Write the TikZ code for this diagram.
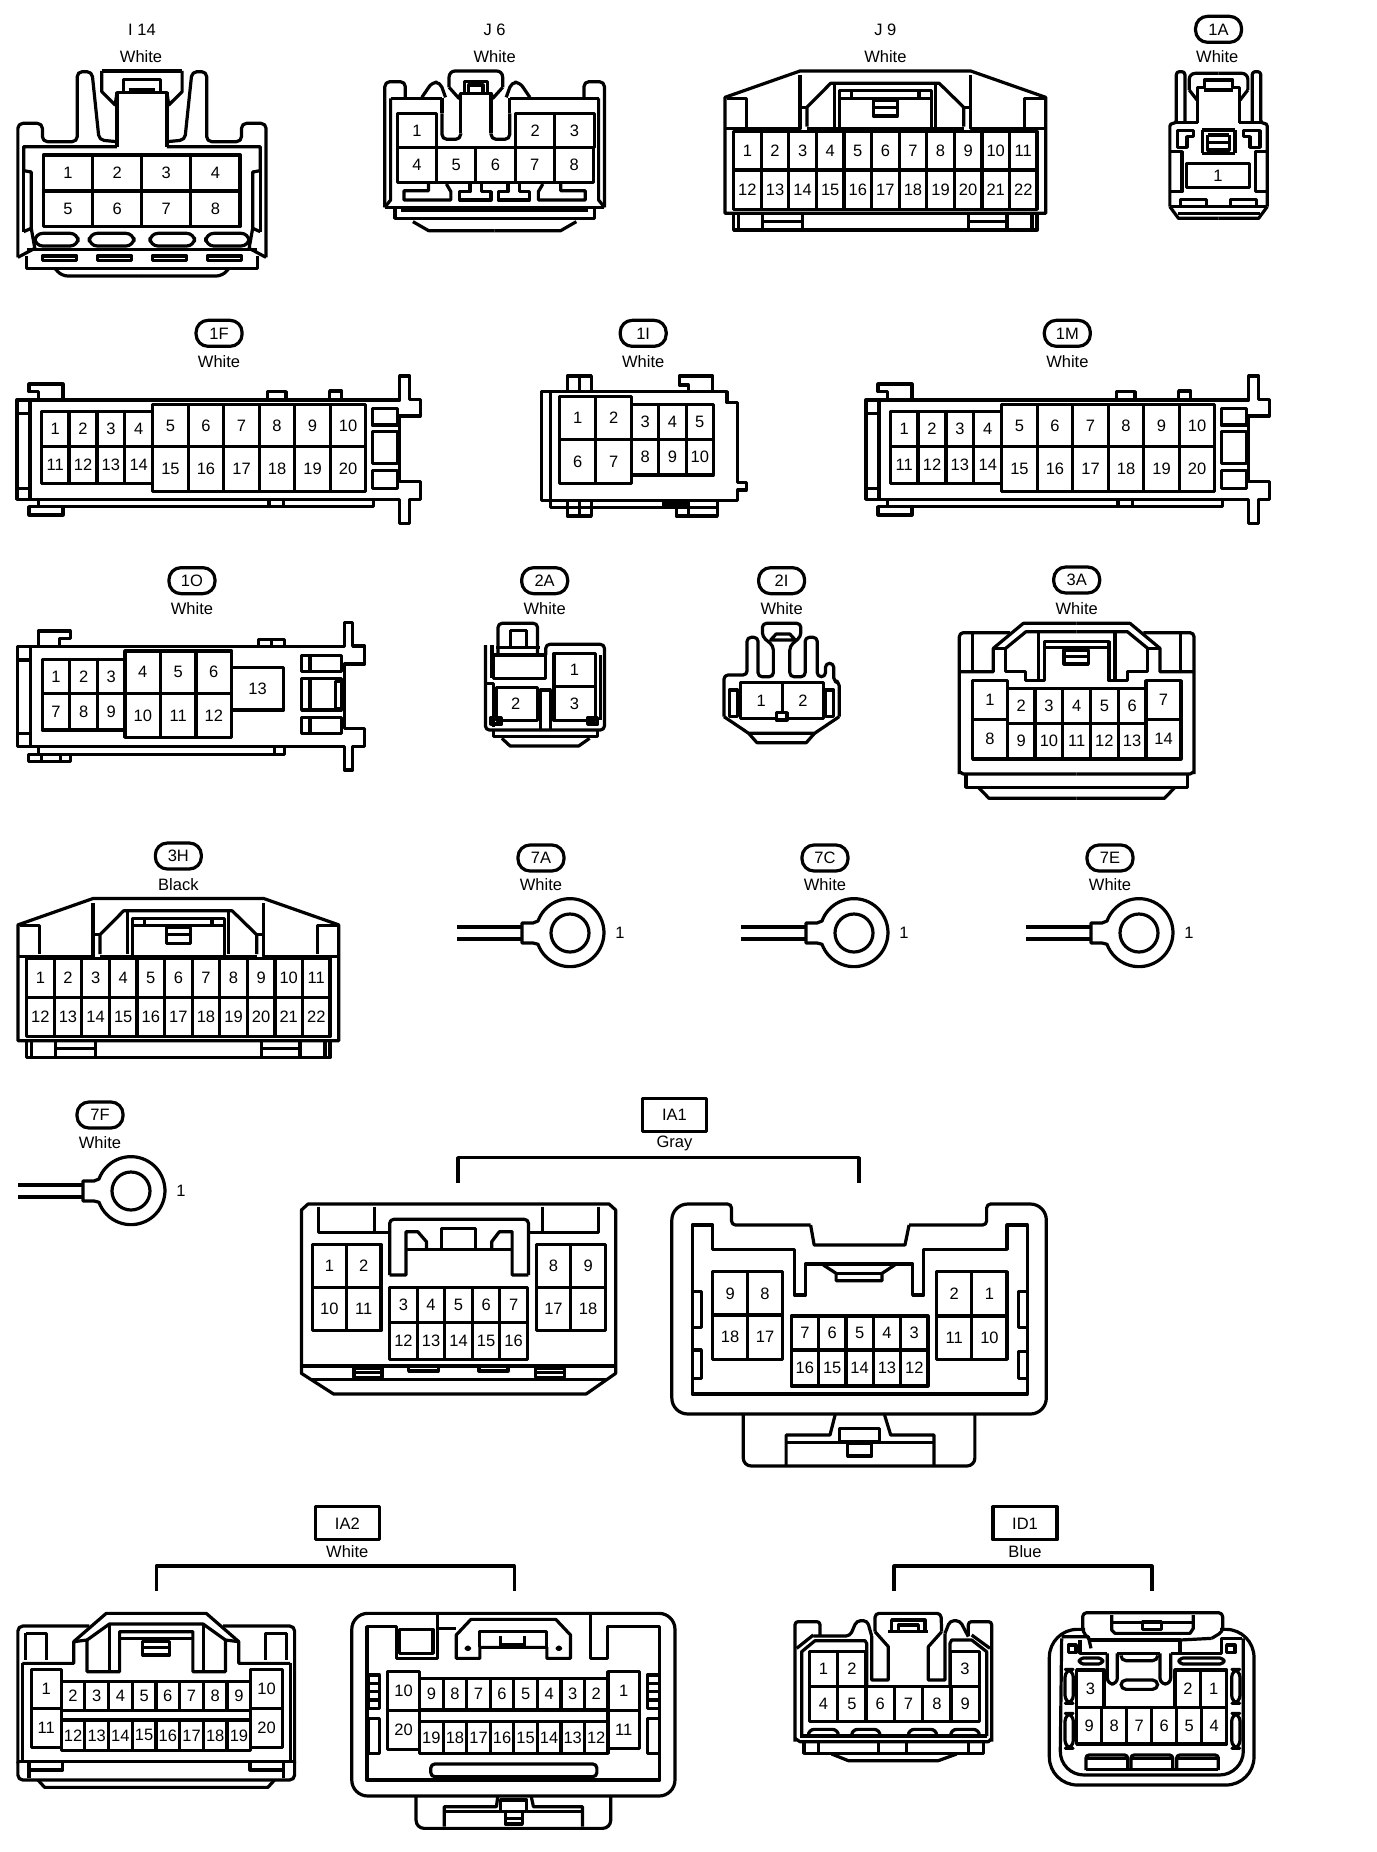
\documentclass[tikz,border=0pt]{standalone}
\usepackage{fontspec}
\setmainfont{Liberation Sans}
\tikzset{
  textfont/.style={font=\fontsize{16.5}{18}\selectfont},
  pin/.style={textfont,inner sep=0pt},
  caption/.style={textfont,inner sep=0pt},
  tag/.style={textfont,draw,fill=white,rounded corners=12pt,minimum width=46pt,minimum height=26pt,inner sep=0pt},
  codebox/.style={textfont,draw,minimum width=64pt,minimum height=33pt,inner sep=0pt},
  zoomed/.style n args={4}{shift={(#1,#2)},xscale=1/#3,yscale=1/#4},
}
% one row of cavities: prefix, numbers, left edge, pitch, top, bottom
\newcommand{\pinrow}[6]{%
  \foreach \n [count=\k from 0] in {#2} {
    \pgfmathsetmacro{\xa}{#3+\k*#4}
    \pgfmathsetmacro{\xb}{#3+(\k+1)*#4}
    \draw (\xa,#5) rectangle (\xb,#6);
    \node[pin] (#1-\n) at ({(\xa+\xb)/2},{(#5+#6)/2}) {\n};
  }}
% flat housing of 1F and 1M
\newcommand{\longbody}[1]{%
  \draw (62,270) -- (35,270) -- (35,568) -- (825,568) -- (825,640) -- (845,640) -- (845,568) -- (867,568) -- (867,515) -- (825,515) -- (825,318) -- (867,318) -- (867,268) -- (845,268) -- (845,198) -- (825,198) -- (825,270) -- (62,270) -- (62,568);
  \draw (35,310) -- (62,310);
  \draw (35,535) -- (62,535);
  \draw (80,268) -- (80,245) -- (60,245) -- (60,222) -- (130,222) -- (130,270);
  \draw (80,568) -- (80,590) -- (770,590) -- (770,568);
  \draw (60,590) rectangle (130,615);
  \draw (555,568) -- (555,590);
  \draw (585,568) -- (585,590);
  \draw (552,268) -- (552,245) -- (590,245) -- (590,268);
  \draw (680,268) -- (680,243) -- (705,243) -- (705,268);
  \draw (768,295) rectangle (820,345);
  \draw (768,365) rectangle (820,460);
  \draw (768,482) rectangle (820,535);
  \pinrow{#1}{1,2,3,4}{85}{57.5}{305}{410}
  \pinrow{#1}{11,12,13,14}{85}{57.5}{410}{520}
  \pinrow{#1}{5,6,7,8,9,10}{315}{73.3}{283}{410}
  \pinrow{#1}{15,16,17,18,19,20}{315}{73.3}{410}{545}
}
% wide housing of J9 and 3H
\newcommand{\widebody}[1]{%
  \draw (58,640) -- (58,292) -- (232,213) -- (628,213) -- (802,292) -- (802,640) -- cycle;
  \draw (58,386) -- (232,386) -- (232,225);
  \draw (802,386) -- (628,386) -- (628,225);
  \draw (248,380) -- (248,322) -- (303,250) -- (555,250) -- (612,322) -- (612,380);
  \draw (232,322) -- (248,322);
  \draw (612,322) -- (628,322);
  \draw (248,386) -- (612,386);
  \draw (312,250) -- (312,380);
  \draw (547,250) -- (547,380);
  \draw (323,385) -- (323,272) -- (537,272) -- (537,385);
  \draw (323,295) -- (537,295);
  \draw (352,272) -- (352,295);
  \draw (508,272) -- (508,295);
  \draw (62,295) -- (108,295) -- (108,380);
  \draw (798,295) -- (752,295) -- (752,380);
  \draw (402,300) rectangle (458,348);
  \draw (402,322) -- (458,322);
  \draw (78,640) -- (78,690) -- (782,690) -- (782,640);
  \draw (90,640) -- (90,690);
  \draw (770,640) -- (770,690);
  \draw (145,640) -- (145,690);
  \draw (237,640) -- (237,690);
  \draw (622,640) -- (622,690);
  \draw (712,640) -- (712,690);
  \draw (145,664) -- (237,664);
  \draw (622,664) -- (712,664);
  \pinrow{#1}{1,2,3,4,5,6,7,8,9,10,11}{78}{64}{394}{510}
  \pinrow{#1}{12,13,14,15,16,17,18,19,20,21,22}{78}{64}{510}{628}
}
% ring terminal with its lead
\newcommand{\ringlug}[3]{%
  \begin{scope}[shift={(#2,#3)}]
    \draw (-48,-10) -- (-37,-10) -- (-32,-12) arc [start angle=160,end angle=-160,radius=34pt] -- (-37,10) -- (-48,10) -- cycle;
    \draw (0,0) circle [radius=19pt];
    \draw (-113,-6) -- (-48,-6);
    \draw (-113,6) -- (-48,6);
    \node[pin] (#1-1) at (50,0) {1};
  \end{scope}}
\begin{document}
\begin{tikzpicture}[x=1pt,y=-1pt,line width=3.2pt,line join=round]
\fill[white] (0,0) rectangle (1376,1852);
\useasboundingbox (0,0) rectangle (1376,1852);

% I14
\begin{scope}[zoomed={0}{0}{2.24}{3}]
\node[caption] (nameI14) at (318,88) {I 14};
\node[caption] (colI14) at (316,170) {White};
\foreach \m in {1,-1} {
\begin{scope}[shift={(318,0)},xscale=\m]
  \draw[rounded corners=5pt] (278,772) -- (278,370) -- (223,370) -- (223,425) -- (145,425) -- (145,215) -- (112,215) -- (96,420) -- (56,425);
  \draw (56,440) -- (56,278) -- (0,278);
  \draw (56,278) -- (60,315) -- (90,275) -- (90,213);
  \draw[rounded corners=4pt] (90,213) -- (0,213);
  \draw (42,275) -- (42,238) -- (0,238);
  \draw (30,270) -- (0,270);
  \draw (56,440) -- (265,440) -- (265,512) -- (248,516) -- (248,685) -- (240,745) -- (278,772);
  \draw (265,512) -- (265,695);
  \draw (265,695) -- (248,685);
  \draw (258,748) -- (0,748);
  \draw (258,768) -- (258,805) -- (0,805);
  \draw[rounded corners=6pt] (195,805) -- (180,828) -- (0,828);
  \draw[rounded corners=8pt] (143,700) rectangle (240,738);
  \draw[rounded corners=8pt] (18,700) rectangle (118,738);
  \draw (23,768) rectangle (100,782);
  \draw (146,768) rectangle (223,782);
\end{scope}}
\pinrow{i14}{1,2,3,4}{97}{110.2}{465}{573}
\pinrow{i14}{5,6,7,8}{97}{110.2}{573}{680}

% J6
\node[caption] (nameJ6) at (1108,88) {J 6};
\node[caption] (colJ6) at (1108,170) {White};
\foreach \m in {1,-1} {
\begin{scope}[shift={(1108,0)},xscale=\m]
  \draw[rounded corners=5pt] (246,622) -- (246,245) -- (200,245) -- (200,295);
  \draw (233,295) -- (233,600) -- (246,622);
  \draw (246,622) -- (0,622);
  \draw (223,622) -- (223,655) -- (0,655);
  \draw (210,632) -- (0,632);
  \draw (183,665) -- (148,692) -- (0,692);
  \draw (148,552) -- (148,572) -- (203,572) -- (203,600) -- (98,600) -- (98,575) -- (108,552);
  \draw (55,552) -- (55,575) -- (78,575) -- (78,600) -- (8,600) -- (8,575) -- (30,575) -- (30,552);
\end{scope}}
\draw (875,295) -- (990,295);
\draw (1142,295) -- (1341,295);
\foreach \m in {1,-1} {
\begin{scope}[shift={(1066,0)},xscale=\m]
  \draw[rounded corners=5pt] (76,340) -- (76,418) -- (34,418) -- (34,400);
  \draw (76,295) -- (76,340);
  \draw (34,400) -- (34,280) -- (0,280);
  \draw[rounded corners=5pt] (121,292) -- (98,247) -- (80,247) -- (68,292);
  \draw (34,280) -- (38,295) -- (60,262);
  \draw[rounded corners=6pt] (60,262) -- (60,213) -- (0,213);
  \draw (26,275) -- (26,245) -- (0,245);
  \draw (16,275) -- (16,255) -- (0,255);
\end{scope}}
\draw (978,443) -- (1155,443);
\pinrow{j6}{1}{890}{88}{340}{443}
\pinrow{j6}{2,3}{1155}{88}{340}{443}
\pinrow{j6}{4,5,6,7,8}{890}{88}{443}{548}
\end{scope}

% J9, 1A
\begin{scope}[zoomed={700}{0}{2.32}{3}]
\node[caption] (nameJ9) at (430,88) {J 9};
\node[caption] (colJ9) at (430,170) {White};
\widebody{j9}
\node[tag] (tag1A) at (1203,88) {1A};
\node[caption] (col1A) at (1200,170) {White};
\foreach \m in {1,-1} {
\begin{scope}[shift={(1203,0)},xscale=\m]
  \draw[rounded corners=3pt] (113,620) -- (113,370) -- (98,370) -- (98,215) -- (78,215) -- (78,368);
  \draw[rounded corners=6pt] (0,220) -- (68,220) -- (68,270);
  \draw (68,270) -- (50,300);
  \draw (48,368) -- (48,262) -- (33,262) -- (33,240) -- (0,240);
  \draw (33,270) -- (0,270);
  \draw (98,368) -- (48,368);
  \draw (96,392) -- (58,392) -- (58,410) -- (73,410) -- (73,442) -- (96,442) -- cycle;
  \draw (113,455) -- (85,455) -- (85,575) -- (113,575);
  \draw (113,620) -- (93,655) -- (0,655);
  \draw (113,620) -- (0,620);
  \draw (95,640) -- (0,640);
  \draw (88,620) -- (88,598) -- (28,598) -- (28,620);
  \draw (38,390) -- (38,460);
  \draw (38,390) -- (0,390);
  \draw (38,460) -- (0,460);
  \draw (25,405) -- (25,450) -- (0,450);
  \draw (25,405) -- (0,405);
  \draw (25,428) -- (0,428);
\end{scope}}
\pinrow{p1A}{1}{1128}{147}{490}{562}
\end{scope}

% 1F, 1I
\begin{scope}[zoomed={0}{310}{2.063}{3}]
\node[tag] (tag1F) at (452,70) {1F};
\node[caption] (col1F) at (452,155) {White};
\longbody{p1F}
\node[tag] (tag1I) at (1327,70) {1I};
\node[caption] (col1I) at (1327,155) {White};
\draw (1117,245) -- (1500,245) -- (1500,278) -- (1522,278) -- (1522,518) -- (1540,518) -- (1540,540) -- (1522,540) -- (1522,572) -- (1117,572) -- cycle;
\draw (1135,245) -- (1135,572);
\draw (1170,245) -- (1170,198) -- (1220,198) -- (1220,245);
\draw (1195,198) -- (1195,245);
\draw (1420,245) -- (1420,225) -- (1402,225) -- (1402,198) -- (1470,198) -- (1470,245);
\draw (1135,572) -- (1135,592) -- (1480,592) -- (1480,572);
\draw (1170,572) rectangle (1220,618);
\draw (1195,572) -- (1195,618);
\draw (1395,592) rectangle (1480,618);
\draw (1420,572) -- (1420,618);
\draw (1365,582) -- (1420,582);
\pinrow{p1I}{3,4,5}{1303}{56.3}{283}{388}
\pinrow{p1I}{8,9,10}{1303}{56.3}{388}{495}
\pinrow{p1I}{1,2}{1155}{74}{260}{388}
\pinrow{p1I}{6,7}{1155}{74}{388}{520}
\end{scope}

% 1M, 3A
\begin{scope}[zoomed={860}{310}{3}{3}]
\node[tag] (tag1M) at (622,70) {1M};
\node[caption] (col1M) at (622,155) {White};
\node[tag] (tag3A) at (650,810) {3A};
\node[caption] (col3A) at (650,897) {White};
\foreach \m in {1,-1} {
\begin{scope}[shift={(650,0)},xscale=\m]
  \draw[rounded corners=4pt] (352,1392) -- (352,968) -- (200,968);
  \draw (312,968) -- (312,1085);
  \draw (352,1085) -- (250,1085) -- (250,1015) -- (160,940) -- (0,940);
  \draw (250,1015) -- (213,1015) -- (213,1085) -- (153,1085) -- (153,1112) -- (97,1112) -- (97,995) -- (0,995);
  \draw (213,1015) -- (152,965) -- (0,965);
  \draw (115,965) -- (115,1112);
  \draw (97,1012) -- (0,1012);
  \draw (352,1385) -- (340,1392) -- (0,1392);
  \draw (332,1392) -- (332,1432) -- (0,1432);
  \draw (295,1432) -- (263,1465) -- (0,1465);
\end{scope}}
\draw (612,1020) rectangle (685,1062);
\draw (612,1040) -- (685,1040);
\pinrow{p3A}{1}{338}{104}{1112}{1228}
\pinrow{p3A}{8}{338}{104}{1228}{1347}
\pinrow{p3A}{2,3,4,5,6}{442}{83.2}{1135}{1240}
\pinrow{p3A}{9,10,11,12,13}{442}{83.2}{1240}{1347}
\pinrow{p3A}{7}{858}{105}{1112}{1228}
\pinrow{p3A}{14}{858}{105}{1228}{1347}
\end{scope}
\begin{scope}[shift={(849,0)},zoomed={0}{310}{2.063}{3}]
\longbody{p1M}
\end{scope}

% 1O, 2A, 2I
\begin{scope}[zoomed={0}{560}{1.823}{3}]
\node[tag] (tag1O) at (350,62) {1O};
\node[caption] (col1O) at (350,147) {White};
\draw (55,260) -- (32,260) -- (32,560) -- (628,560) -- (628,630) -- (643,630) -- (643,560) -- (665,560) -- (665,505) -- (628,505) -- (628,312) -- (665,312) -- (665,258) -- (643,258) -- (643,188) -- (628,188) -- (628,260) -- (55,260) -- (55,560);
\draw (32,300) -- (55,300);
\draw (32,520) -- (55,520);
\draw (70,258) -- (70,213) -- (128,213) -- (128,235) -- (108,235) -- (108,258);
\draw (472,258) -- (472,238) -- (518,238) -- (518,258);
\draw (495,238) -- (495,258);
\draw (70,560) -- (70,583) -- (518,583) -- (518,560);
\draw (500,560) -- (500,583);
\draw (52,583) rectangle (128,605);
\draw (75,583) -- (75,605);
\draw (110,583) -- (110,605);
\draw (550,287) rectangle (622,335);
\draw (565,287) -- (565,335);
\draw (550,355) rectangle (622,450);
\draw (565,355) -- (565,450);
\draw (612,365) rectangle (622,445);
\draw (550,473) rectangle (622,520);
\draw (565,473) -- (565,520);
\pinrow{p1O}{1,2,3}{77}{50.3}{298}{400}
\pinrow{p1O}{7,8,9}{77}{50.3}{400}{510}
\pinrow{p1O}{13}{422}{95}{322}{450}
\pinrow{p1O}{4,5,6}{228}{64.7}{273}{400}
\pinrow{p1O}{10,11,12}{228}{64.7}{400}{532}

\node[tag] (tag2A) at (993,62) {2A};
\node[caption] (col2A) at (993,147) {White};
\draw[rounded corners=4pt] (995,285) -- (995,253) -- (1102,253) -- (1102,510) -- (885,510) -- (885,255);
\draw[rounded corners=4pt] (908,285) -- (908,190) -- (980,190) -- (980,285);
\draw (930,210) -- (930,260);
\draw (960,210) -- (960,260);
\draw (930,212) -- (960,212);
\draw (905,262) -- (985,262);
\draw (897,285) -- (995,285);
\draw (897,255) -- (897,355);
\draw (900,285) -- (900,355) -- (995,355) -- (995,285);
\draw (885,370) -- (900,370) -- (900,500);
\draw (1095,285) -- (1095,480);
\draw (905,382) rectangle (980,482);
\draw (895,472) rectangle (915,492);
\draw (1072,472) rectangle (1090,492);
\draw (985,510) -- (985,390) -- (1003,390) -- (1003,510);
\draw (900,510) -- (900,530) -- (1090,530) -- (1090,510);
\draw (915,535) -- (930,558) -- (1055,558) -- (1075,535);
\node[pin] (p2A-2) at (940,430) {2};
\pinrow{p2A}{1}{1010}{75}{280}{380}
\pinrow{p2A}{3}{1010}{75}{380}{482}

\node[tag] (tag2I) at (1425,62) {2I};
\node[caption] (col2I) at (1425,147) {White};
\draw[rounded corners=4pt] (1320,470) -- (1320,345) -- (1362,345) -- (1362,232) -- (1382,232) -- (1382,350) -- (1410,350) -- (1410,258) -- (1390,230) -- (1390,190) -- (1460,190) -- (1460,230) -- (1440,258) -- (1440,350) -- (1468,350) -- (1468,232) -- (1490,232) -- (1490,350) -- (1505,350) -- (1505,310) -- (1520,310) -- (1520,365) -- (1530,365) -- (1530,470);
\draw (1405,240) -- (1415,222) -- (1440,222) -- (1450,240) -- cycle;
\draw (1330,390) rectangle (1345,470);
\draw (1505,390) rectangle (1520,470);
\draw (1320,470) -- (1365,520) -- (1485,520) -- (1530,470);
\draw (1365,520) -- (1380,548) -- (1470,548) -- (1485,520);
\pinrow{p2I}{1,2}{1350}{76}{368}{475}
\draw[fill=white] (1415,458) rectangle (1435,480);
\end{scope}

% 3H, rings
\begin{scope}[shift={(-707,827.5)},zoomed={700}{0}{2.32}{3}]
\widebody{p3H}
\end{scope}
\begin{scope}[zoomed={0}{840}{2.45}{3}]
\node[tag] (tag3H) at (437,48) {3H};
\node[caption] (col3H) at (437,133) {Black};
\end{scope}
\node[tag] (tag7A) at (541,858) {7A};
\node[caption] (col7A) at (541,885) {White};
\ringlug{p7A}{570}{933}
\node[tag] (tag7C) at (825,858) {7C};
\node[caption] (col7C) at (825,885) {White};
\ringlug{p7C}{854}{933}
\node[tag] (tag7E) at (1110,858) {7E};
\node[caption] (col7E) at (1110,885) {White};
\ringlug{p7E}{1139}{933}
\node[tag] (tag7F) at (100,1115) {7F};
\node[caption] (col7F) at (100,1143) {White};
\ringlug{p7F}{131}{1191}

% IA1
\begin{scope}[zoomed={280}{1090}{1.96}{3}]
\node[codebox] (boxIA1) at (773,75) {IA1};
\node[caption] (colIA1) at (773,160) {Gray};
\draw (349,278) -- (349,203) -- (1135,203) -- (1135,278);
\draw (42,850) -- (42,360) -- (55,342) -- (645,342) -- (658,360) -- (658,850) -- (600,912) -- (105,912) -- cycle;
\draw (42,828) -- (658,828);
\draw (60,868) -- (640,868);
\draw (75,350) -- (75,428) -- (215,428);
\draw (625,350) -- (625,428) -- (487,428);
\draw (185,350) -- (185,428);
\draw (515,350) -- (515,428);
\draw[rounded corners=4pt] (215,555) -- (215,388) -- (487,388) -- (487,555);
\draw (215,555) -- (247,555) -- (247,425) -- (270,425) -- (287,455) -- (287,478);
\draw (487,555) -- (455,555) -- (455,425) -- (430,425) -- (415,455) -- (415,478);
\draw (247,478) -- (455,478);
\draw (317,475) -- (317,415) -- (383,415) -- (383,475);
\pinrow{ia1}{1,2}{63}{67.5}{463}{592}
\pinrow{ia1}{10,11}{63}{67.5}{592}{722}
\pinrow{ia1}{3,4,5,6,7}{215}{54}{592}{698}
\pinrow{ia1}{12,13,14,15,16}{215}{54}{698}{808}
\pinrow{ia1}{8,9}{502}{68}{463}{592}
\pinrow{ia1}{17,18}{502}{68}{592}{722}
\draw (145,835) rectangle (200,862);
\draw (145,848) -- (200,848);
\draw (500,835) rectangle (557,862);
\draw (500,848) -- (557,848);
\draw (252,835) -- (252,843) -- (310,843) -- (310,835);
\draw (390,835) -- (390,843) -- (447,843) -- (447,835);

\draw[rounded corners=4pt] (1040,405) -- (885,405) -- (885,342) [rounded corners=16pt] -- (768,342) -- (768,972) -- (1502,972) -- (1502,342) [rounded corners=4pt] -- (1385,342) -- (1385,405) -- (1233,405);
\draw (1040,405) -- (1047,465) -- (1225,465) -- (1233,405);
\draw (808,405) -- (848,405) -- (848,478) -- (1008,478) -- (1008,615) -- (1030,615) -- (1030,522) -- (1240,522) -- (1240,615) -- (1262,615) -- (1262,478) -- (1425,478) -- (1425,405) -- (1465,405) -- (1465,912) -- (808,912) -- cycle;
\draw (1065,525) -- (1090,550) -- (1090,572) -- (1180,572) -- (1180,550) -- (1205,525);
\draw (1090,550) -- (1180,550);
\draw (808,605) rectangle (826,712);
\draw (808,780) rectangle (826,865);
\draw (1447,605) rectangle (1465,712);
\draw (1447,785) rectangle (1465,865);
\pinrow{ia1b}{9,8}{848}{68.5}{545}{675}
\pinrow{ia1b}{18,17}{848}{68.5}{675}{808}
\pinrow{ia1b}{7,6,5,4,3}{1002}{53.6}{678}{780}
\pinrow{ia1b}{16,15,14,13,12}{1002}{53.6}{780}{888}
\pinrow{ia1b}{2,1}{1287}{69}{545}{678}
\pinrow{ia1b}{11,10}{1287}{69}{678}{808}
\draw[rounded corners=8pt] (908,972) -- (908,1128) -- (1362,1128) -- (1362,972);
\draw (1088,975) -- (1078,1035) -- (992,1035) -- (992,1125);
\draw (1185,975) -- (1197,1035) -- (1282,1035) -- (1282,1125);
\draw (992,1058) -- (1282,1058);
\draw[fill=white] (1097,1015) rectangle (1175,1055);
\draw (1113,1060) rectangle (1160,1098);
\end{scope}

% IA2
\begin{scope}[zoomed={0}{1500}{2.24}{3}]
\node[codebox] (boxIA2) at (778,70) {IA2};
\node[caption] (colIA2) at (778,155) {White};
\draw (350,272) -- (350,198) -- (1152,198) -- (1152,272);
\foreach \m in {1,-1} {
\begin{scope}[shift={(350,0)},xscale=\m]
  \draw[rounded corners=5pt] (310,790) -- (310,378) -- (150,378);
  \draw (185,425) -- (112,340) -- (0,340);
  \draw (300,490) -- (185,490) -- (185,425) -- (155,420) -- (155,515) -- (82,515) -- (82,395) -- (0,395);
  \draw (155,420) -- (105,372) -- (0,372);
  \draw (105,372) -- (105,510);
  \draw (82,415) -- (0,415);
  \draw (300,490) -- (300,785);
  \draw (292,400) -- (245,400) -- (245,480);
  \draw (292,400) -- (292,480);
  \draw[rounded corners=5pt] (310,785) -- (310,840) -- (0,840);
  \draw (310,785) -- (0,785);
  \draw (285,790) -- (285,835);
  \draw (285,810) -- (210,810) -- (210,790);
  \draw (265,840) -- (250,862) -- (0,862);
\end{scope}}
\draw (320,425) rectangle (380,465);
\draw (320,443) -- (380,443);
\draw (137,632) -- (562,632);
\draw (137,660) -- (562,660);
\pinrow{ia2}{1}{70}{67}{508}{625}
\pinrow{ia2}{11}{70}{67}{625}{742}
\pinrow{ia2}{2,3,4,5,6,7,8,9}{137}{53.1}{545}{632}
\pinrow{ia2}{12,13,14,15,16,17,18,19}{137}{53.1}{660}{752}
\pinrow{ia2}{10}{562}{70}{508}{625}
\pinrow{ia2}{20}{562}{70}{625}{742}

\draw[rounded corners=16pt] (788,340) rectangle (1512,888);
\draw (980,345) -- (980,385);
\draw (1322,345) -- (1322,475) -- (1360,475) -- (1360,380) -- (1478,380) -- (1478,840) -- (822,840) -- (822,380) -- (888,380) -- (888,475) -- (980,475) -- (980,385) -- (1022,385);
\draw (895,388) rectangle (970,460);
\draw (1022,475) -- (1022,405) -- (1055,358) -- (1245,358) -- (1278,405) -- (1278,475) -- (1225,475) -- (1225,442) -- (1075,442) -- (1075,475) -- cycle;
\draw (1075,442) -- (1075,395) -- (1225,395) -- (1225,442);
\draw (1122,408) -- (1122,435) -- (1175,435) -- (1175,408);
\draw (1048,445) circle [radius=4pt];
\draw (1252,445) circle [radius=4pt];
\pinrow{ia2b}{10}{868}{72}{515}{632}
\pinrow{ia2b}{20}{868}{72}{632}{748}
\pinrow{ia2b}{9,8,7,6,5,4,3,2}{940}{52.75}{535}{630}
\pinrow{ia2b}{19,18,17,16,15,14,13,12}{940}{52.75}{665}{760}
\pinrow{ia2b}{1}{1362}{70}{515}{632}
\pinrow{ia2b}{11}{1362}{70}{632}{745}
\draw (825,525) rectangle (850,625);
\draw (825,550) -- (850,550);
\draw (825,575) -- (850,575);
\draw (825,600) -- (850,600);
\draw (825,655) rectangle (850,760);
\draw (1450,525) rectangle (1478,625);
\draw (1450,550) -- (1478,550);
\draw (1450,575) -- (1478,575);
\draw (1450,600) -- (1478,600);
\draw (1450,655) rectangle (1478,760);
\draw[rounded corners=4pt] (965,792) rectangle (1337,830);
\draw[rounded corners=8pt] (932,888) -- (932,985) -- (1368,985) -- (1368,888);
\draw (1115,890) -- (1112,920) -- (995,920) -- (995,980);
\draw (1190,890) -- (1195,920) -- (1305,920) -- (1305,980);
\draw (995,935) -- (1122,935);
\draw (1180,935) -- (1305,935);
\draw (1122,900) rectangle (1180,935);
\draw (1132,935) rectangle (1170,972);
\draw (1132,955) -- (1170,955);
\end{scope}

% ID1
\begin{scope}[zoomed={760}{1500}{3}{3}]
\node[codebox] (boxID1) at (795,70) {ID1};
\node[caption] (colID1) at (795,155) {Blue};
\draw (402,272) -- (402,198) -- (1176,198) -- (1176,272);
\draw[rounded corners=3pt] (105,725) -- (105,365) -- (180,365) -- (180,408);
\draw[rounded corners=3pt] (695,725) -- (695,365) -- (625,365) -- (625,408);
\draw[rounded corners=4pt] (160,408) -- (270,408) -- (290,362) -- (322,362) -- (335,408);
\draw (335,408) -- (335,540) -- (385,540) -- (385,440) -- (345,395);
\draw[rounded corners=4pt] (345,395) -- (345,340) -- (543,340) -- (545,395);
\draw (545,395) -- (505,440) -- (505,540) -- (555,540) -- (555,400);
\draw[rounded corners=4pt] (555,400) -- (570,362) -- (600,362) -- (625,410);
\draw (385,395) -- (505,395);
\draw (395,395) -- (395,360) -- (495,360) -- (495,395);
\draw (415,375) rectangle (475,395);
\draw (110,445) -- (160,405);
\draw (125,708) -- (125,455) -- (165,422) -- (315,422) -- (320,430) -- (320,555);
\draw (690,445) -- (635,405);
\draw (680,708) -- (680,455) -- (635,420) -- (575,420) -- (570,430) -- (570,555);
\draw (105,715) -- (120,725) -- (685,725) -- (695,715);
\draw (120,708) -- (680,708);
\pinrow{id1}{1,2}{148}{85}{455}{560}
\pinrow{id1}{3}{572}{86}{455}{560}
\pinrow{id1}{4,5,6,7,8,9}{148}{85}{560}{665}
\draw[rounded corners=6pt] (145,705) -- (145,688) -- (235,688) -- (235,705);
\draw[rounded corners=6pt] (275,705) -- (275,688) -- (360,688) -- (360,705);
\draw[rounded corners=6pt] (445,705) -- (445,688) -- (530,688) -- (530,705);
\draw[rounded corners=6pt] (572,705) -- (572,688) -- (658,688) -- (658,705);
\draw (132,725) rectangle (670,760);
\draw (175,730) -- (175,760);
\draw (355,730) -- (355,760);
\draw (440,730) -- (440,760);
\draw (625,730) -- (625,760);
\draw (215,762) -- (265,782) -- (535,782) -- (590,762);

\draw[rounded corners=28pt] (975,388) -- (868,388) -- (868,855) -- (1482,855) -- (1482,388) -- (1380,388);
\draw[rounded corners=24pt] (905,415) -- (900,825) -- (1450,825) -- (1450,415);
\draw[rounded corners=4pt] (990,420) -- (968,395) -- (968,338) -- (1388,338) -- (1388,395) -- (1355,415);
\draw (990,420) -- (1260,420) -- (1260,460);
\draw (1355,415) -- (1260,420);
\draw (1055,345) -- (1055,390) -- (1065,400) -- (1290,400) -- (1300,385) -- (1300,345);
\draw (1055,368) -- (1300,368);
\draw (1148,365) rectangle (1205,388);
\draw (905,410) -- (985,410) -- (993,445);
\draw (925,435) rectangle (948,458);
\draw (1400,435) rectangle (1425,458);
\draw (960,420) -- (960,460) -- (1042,460);
\draw[rounded corners=6pt] (1042,460) -- (1042,552) -- (1072,552) -- (1072,460);
\draw (1072,460) -- (1200,460);
\draw[rounded corners=6pt] (1200,460) -- (1200,552) -- (1232,552) -- (1232,460);
\draw (1232,460) -- (1385,460) -- (1385,415) -- (1445,415);
\draw[rounded corners=5pt] (1083,540) rectangle (1193,568);
\draw[rounded corners=5pt] (1083,466) -- (1083,482) -- (1193,482) -- (1193,466);
\draw[rounded corners=4pt] (958,474) rectangle (1028,492);
\draw[rounded corners=4pt] (1257,474) rectangle (1392,492);
\draw[rounded corners=8pt] (915,508) rectangle (940,610);
\draw[rounded corners=8pt] (915,640) rectangle (940,745);
\draw[rounded corners=8pt] (1415,508) rectangle (1440,610);
\draw[rounded corners=8pt] (1415,640) rectangle (1440,745);
\pinrow{id1b}{3}{950}{82}{510}{622}
\pinrow{id1b}{2,1}{1245}{77.5}{510}{622}
\pinrow{id1b}{9,8,7,6,5,4}{950}{75}{622}{732}
\draw[rounded corners=3pt] (978,810) -- (978,765) -- (1103,765) -- (1103,810);
\draw[rounded corners=3pt] (1113,810) -- (1113,765) -- (1238,765) -- (1238,810);
\draw[rounded corners=3pt] (1250,810) -- (1250,765) -- (1375,765) -- (1375,810);
\draw (978,776) -- (1103,776);
\draw (1113,776) -- (1238,776);
\draw (1250,776) -- (1375,776);
\draw (978,808) -- (1375,808);
\end{scope}
\end{tikzpicture}
\end{document}
